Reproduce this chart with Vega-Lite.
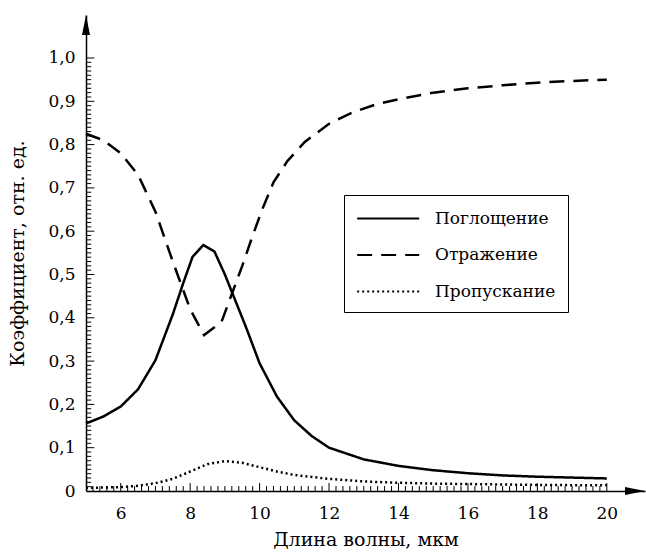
{
  "$schema": "https://vega.github.io/schema/vega-lite/v6.json",
  "width": 559,
  "height": 476,
  "autosize": {"type": "none"},
  "padding": {"left": 86, "top": 15, "right": 1, "bottom": 64},
  "config": {
    "view": {"stroke": null},
    "font": "DejaVu Serif",
    "axis": {"labelFont": "DejaVu Serif", "titleFont": "DejaVu Serif", "labelColor": "black", "titleColor": "black", "domainColor": "black", "titleFontWeight": "normal", "grid": false, "ticks": false}
  },
  "data": {"values": [
    {"x": 5, "y": 0.156, "s": "Поглощение"},
    {"x": 5.5, "y": 0.172, "s": "Поглощение"},
    {"x": 6, "y": 0.195, "s": "Поглощение"},
    {"x": 6.5, "y": 0.235, "s": "Поглощение"},
    {"x": 7, "y": 0.302, "s": "Поглощение"},
    {"x": 7.5, "y": 0.408, "s": "Поглощение"},
    {"x": 7.8, "y": 0.48, "s": "Поглощение"},
    {"x": 8.07, "y": 0.541, "s": "Поглощение"},
    {"x": 8.38, "y": 0.568, "s": "Поглощение"},
    {"x": 8.7, "y": 0.553, "s": "Поглощение"},
    {"x": 9.0, "y": 0.5, "s": "Поглощение"},
    {"x": 9.3, "y": 0.44, "s": "Поглощение"},
    {"x": 9.6, "y": 0.38, "s": "Поглощение"},
    {"x": 10, "y": 0.295, "s": "Поглощение"},
    {"x": 10.5, "y": 0.218, "s": "Поглощение"},
    {"x": 11, "y": 0.163, "s": "Поглощение"},
    {"x": 11.5, "y": 0.127, "s": "Поглощение"},
    {"x": 12, "y": 0.1, "s": "Поглощение"},
    {"x": 13, "y": 0.073, "s": "Поглощение"},
    {"x": 14, "y": 0.058, "s": "Поглощение"},
    {"x": 15, "y": 0.048, "s": "Поглощение"},
    {"x": 16, "y": 0.041, "s": "Поглощение"},
    {"x": 17, "y": 0.036, "s": "Поглощение"},
    {"x": 18, "y": 0.033, "s": "Поглощение"},
    {"x": 19, "y": 0.031, "s": "Поглощение"},
    {"x": 20, "y": 0.029, "s": "Поглощение"},
    {"x": 5, "y": 0.825, "s": "Отражение"},
    {"x": 5.5, "y": 0.81, "s": "Отражение"},
    {"x": 6, "y": 0.78, "s": "Отражение"},
    {"x": 6.5, "y": 0.73, "s": "Отражение"},
    {"x": 7, "y": 0.645, "s": "Отражение"},
    {"x": 7.5, "y": 0.53, "s": "Отражение"},
    {"x": 8, "y": 0.42, "s": "Отражение"},
    {"x": 8.4, "y": 0.36, "s": "Отражение"},
    {"x": 8.9, "y": 0.39, "s": "Отражение"},
    {"x": 9.2, "y": 0.455, "s": "Отражение"},
    {"x": 9.5, "y": 0.52, "s": "Отражение"},
    {"x": 9.8, "y": 0.59, "s": "Отражение"},
    {"x": 10.1, "y": 0.655, "s": "Отражение"},
    {"x": 10.4, "y": 0.713, "s": "Отражение"},
    {"x": 10.8, "y": 0.762, "s": "Отражение"},
    {"x": 11.3, "y": 0.806, "s": "Отражение"},
    {"x": 12, "y": 0.848, "s": "Отражение"},
    {"x": 12.7, "y": 0.875, "s": "Отражение"},
    {"x": 13.4, "y": 0.894, "s": "Отражение"},
    {"x": 14.2, "y": 0.908, "s": "Отражение"},
    {"x": 15, "y": 0.92, "s": "Отражение"},
    {"x": 16, "y": 0.93, "s": "Отражение"},
    {"x": 17, "y": 0.937, "s": "Отражение"},
    {"x": 18, "y": 0.943, "s": "Отражение"},
    {"x": 19, "y": 0.947, "s": "Отражение"},
    {"x": 20, "y": 0.95, "s": "Отражение"},
    {"x": 5, "y": 0.007, "s": "Пропускание"},
    {"x": 6, "y": 0.009, "s": "Пропускание"},
    {"x": 6.5, "y": 0.012, "s": "Пропускание"},
    {"x": 7, "y": 0.018, "s": "Пропускание"},
    {"x": 7.5, "y": 0.028, "s": "Пропускание"},
    {"x": 8, "y": 0.045, "s": "Пропускание"},
    {"x": 8.5, "y": 0.062, "s": "Пропускание"},
    {"x": 9, "y": 0.069, "s": "Пропускание"},
    {"x": 9.5, "y": 0.065, "s": "Пропускание"},
    {"x": 10, "y": 0.055, "s": "Пропускание"},
    {"x": 10.5, "y": 0.045, "s": "Пропускание"},
    {"x": 11, "y": 0.037, "s": "Пропускание"},
    {"x": 12, "y": 0.028, "s": "Пропускание"},
    {"x": 13, "y": 0.022, "s": "Пропускание"},
    {"x": 14, "y": 0.019, "s": "Пропускание"},
    {"x": 15, "y": 0.017, "s": "Пропускание"},
    {"x": 16, "y": 0.016, "s": "Пропускание"},
    {"x": 18, "y": 0.014, "s": "Пропускание"},
    {"x": 20, "y": 0.013, "s": "Пропускание"}
  ]},
  "layer": [
    {
      "mark": {"type": "line", "color": "black", "strokeWidth": 2.5},
      "encoding": {
        "x": {"field": "x", "type": "quantitative", "title": "Длина волны, мкм", "scale": {"domain": [5, 21.1], "nice": false, "zero": false},
          "axis": {
            "titleFontSize": 19, "titlePadding": 9,
            "labelFontSize": 17, "domainWidth": 1.5,
            "tickCount": 200,
            "values": [6, 8, 10, 12, 14, 16, 18, 20],
            "format": "d",
            "labelPadding": 14,
            "labelOverlap": false,
            "labelFlush": false
          }},
        "y": {"field": "y", "type": "quantitative", "title": "Коэффициент, отн. ед.", "scale": {"domain": [0, 1.0993], "nice": false},
          "axis": {
            "titleFontSize": 19, "titlePadding": 20,
            "labelFontSize": 17, "domainWidth": 1.5,
            "tickCount": 200,
            "values": [0, 0.1, 0.2, 0.3, 0.4, 0.5, 0.6, 0.7, 0.8, 0.9, 1.0],
            "labelExpr": "datum.value == 0 ? '0' : replace(format(datum.value, '.1f'), '.', ',')",
            "labelPadding": 11,
            "labelOverlap": false,
            "labelFlush": false
          }},
        "strokeDash": {"field": "s", "type": "nominal",
          "scale": {"domain": ["Поглощение", "Отражение", "Пропускание"], "range": [[1, 0], [15, 9], [2, 3]]},
          "legend": {
            "title": null, "orient": "none", "legendX": 258, "legendY": 180,
            "strokeColor": "black", "padding": 12,
            "symbolType": "M-1,0L5,0", "symbolSize": 427, "symbolStrokeWidth": 2, "symbolStrokeColor": "black",
            "labelFont": "DejaVu Serif", "labelFontSize": 17, "labelColor": "black", "labelOffset": 56,
            "rowPadding": 16.5
          }},
        "detail": {"field": "s"}
      }
    },
    {
      "data": {"values": [{"v":0.01},{"v":0.02},{"v":0.03},{"v":0.04},{"v":0.05},{"v":0.06},{"v":0.07},{"v":0.08},{"v":0.09},{"v":0.11},{"v":0.12},{"v":0.13},{"v":0.14},{"v":0.15},{"v":0.16},{"v":0.17},{"v":0.18},{"v":0.19},{"v":0.21},{"v":0.22},{"v":0.23},{"v":0.24},{"v":0.25},{"v":0.26},{"v":0.27},{"v":0.28},{"v":0.29},{"v":0.31},{"v":0.32},{"v":0.33},{"v":0.34},{"v":0.35},{"v":0.36},{"v":0.37},{"v":0.38},{"v":0.39},{"v":0.41},{"v":0.42},{"v":0.43},{"v":0.44},{"v":0.45},{"v":0.46},{"v":0.47},{"v":0.48},{"v":0.49},{"v":0.51},{"v":0.52},{"v":0.53},{"v":0.54},{"v":0.55},{"v":0.56},{"v":0.57},{"v":0.58},{"v":0.59},{"v":0.61},{"v":0.62},{"v":0.63},{"v":0.64},{"v":0.65},{"v":0.66},{"v":0.67},{"v":0.68},{"v":0.69},{"v":0.71},{"v":0.72},{"v":0.73},{"v":0.74},{"v":0.75},{"v":0.76},{"v":0.77},{"v":0.78},{"v":0.79},{"v":0.81},{"v":0.82},{"v":0.83},{"v":0.84},{"v":0.85},{"v":0.86},{"v":0.87},{"v":0.88},{"v":0.89},{"v":0.91},{"v":0.92},{"v":0.93},{"v":0.94},{"v":0.95},{"v":0.96},{"v":0.97},{"v":0.98},{"v":0.99}]},
      "mark": {"type": "rule", "color": "black", "strokeWidth": 1},
      "encoding": {"y": {"field": "v", "type": "quantitative", "title": "Коэффициент, отн. ед."}, "x": {"datum": 5}, "x2": {"datum": 5.15}}
    },
    {
      "data": {"values": [{"v":0.1},{"v":0.2},{"v":0.3},{"v":0.4},{"v":0.5},{"v":0.6},{"v":0.7},{"v":0.8},{"v":0.9},{"v":1.0}]},
      "mark": {"type": "rule", "color": "black", "strokeWidth": 1},
      "encoding": {"y": {"field": "v", "type": "quantitative", "title": "Коэффициент, отн. ед."}, "x": {"datum": 5}, "x2": {"datum": 5.24}}
    },
    {
      "data": {"values": [{"v":5.2},{"v":5.4},{"v":5.6},{"v":5.8},{"v":6.2},{"v":6.4},{"v":6.6},{"v":6.8},{"v":7},{"v":7.2},{"v":7.4},{"v":7.6},{"v":7.8},{"v":8.2},{"v":8.4},{"v":8.6},{"v":8.8},{"v":9},{"v":9.2},{"v":9.4},{"v":9.6},{"v":9.8},{"v":10.2},{"v":10.4},{"v":10.6},{"v":10.8},{"v":11},{"v":11.2},{"v":11.4},{"v":11.6},{"v":11.8},{"v":12.2},{"v":12.4},{"v":12.6},{"v":12.8},{"v":13},{"v":13.2},{"v":13.4},{"v":13.6},{"v":13.8},{"v":14.2},{"v":14.4},{"v":14.6},{"v":14.8},{"v":15},{"v":15.2},{"v":15.4},{"v":15.6},{"v":15.8},{"v":16.2},{"v":16.4},{"v":16.6},{"v":16.8},{"v":17},{"v":17.2},{"v":17.4},{"v":17.6},{"v":17.8},{"v":18.2},{"v":18.4},{"v":18.6},{"v":18.8},{"v":19},{"v":19.2},{"v":19.4},{"v":19.6},{"v":19.8}]},
      "mark": {"type": "rule", "color": "black", "strokeWidth": 1},
      "encoding": {"x": {"field": "v", "type": "quantitative", "title": "Длина волны, мкм"}, "y": {"datum": 0}, "y2": {"datum": 0.0115}}
    },
    {
      "data": {"values": [{"v":6},{"v":8},{"v":10},{"v":12},{"v":14},{"v":16},{"v":18},{"v":20}]},
      "mark": {"type": "rule", "color": "black", "strokeWidth": 1},
      "encoding": {"x": {"field": "v", "type": "quantitative", "title": "Длина волны, мкм"}, "y": {"datum": 0}, "y2": {"datum": 0.0185}}
    },
    {
      "data": {"values": [{}]},
      "mark": {"type": "point", "shape": "M0,0L-0.4,2L0.4,2Z", "filled": true, "color": "black", "size": 400, "opacity": 1},
      "encoding": {"x": {"datum": 5}, "y": {"datum": 1.0993}}
    },
    {
      "data": {"values": [{}]},
      "mark": {"type": "point", "shape": "M0,0L-2,-0.4L-2,0.4Z", "filled": true, "color": "black", "size": 400, "opacity": 1},
      "encoding": {"x": {"datum": 21.1}, "y": {"datum": 0}}
    }
  ]
}
